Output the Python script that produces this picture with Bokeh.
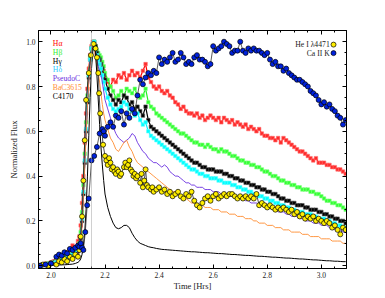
from bokeh.plotting import figure
from bokeh.models import (SingleIntervalTicker, LinearAxis, Span, PrintfTickFormatter,
                          CustomJSTickFormatter)
from bokeh.core.properties import value
from bokeh.embed import file_html
from bokeh.resources import INLINE

# ---------------- data ----------------
T = [1.96, 1.97, 1.98, 1.99, 2.00, 2.01, 2.02, 2.03, 2.04, 2.05, 2.06, 2.07, 2.08, 2.09, 2.10,
     2.105, 2.11, 2.115, 2.12, 2.125, 2.13, 2.135, 2.14, 2.145, 2.15, 2.155, 2.16, 2.165, 2.17,
     2.175, 2.18, 2.185, 2.19, 2.195, 2.20,
     2.21, 2.22, 2.23, 2.24, 2.25, 2.26, 2.27, 2.28, 2.29, 2.30,
     2.31, 2.32, 2.33, 2.34, 2.35, 2.36, 2.37, 2.38, 2.39, 2.40,
     2.41, 2.42, 2.43, 2.44, 2.45, 2.46, 2.47, 2.48, 2.49, 2.50,
     2.51, 2.52, 2.53, 2.54, 2.55, 2.56, 2.57, 2.58, 2.59, 2.60,
     2.61, 2.62, 2.63, 2.64, 2.65, 2.66, 2.67, 2.68, 2.69, 2.70,
     2.71, 2.72, 2.73, 2.74, 2.75, 2.76, 2.77, 2.78, 2.79, 2.80,
     2.81, 2.82, 2.83, 2.84, 2.85, 2.86, 2.87, 2.88, 2.89, 2.90,
     2.91, 2.92, 2.93, 2.94, 2.95, 2.96, 2.97, 2.98, 2.99, 3.00,
     3.01, 3.02, 3.03, 3.04, 3.05, 3.06, 3.07, 3.08, 3.09]

H_ALPHA = [0.0, 0.005, 0.01, 0.01, 0.015, 0.02, 0.03, 0.035, 0.04, 0.05, 0.06, 0.07, 0.09, 0.08, 0.11,
           0.13, 0.18, 0.28, 0.40, 0.55, 0.68, 0.79, 0.88, 0.94, 0.98, 1.0, 0.99, 0.97, 0.94, 0.92, 0.90, 0.91, 0.89, 0.87, 0.84,
           0.82, 0.80, 0.83, 0.82, 0.85, 0.84, 0.86, 0.83, 0.85, 0.87,
           0.85, 0.86, 0.84, 0.87, 0.90, 0.84, 0.82, 0.80, 0.79, 0.80,
           0.78, 0.77, 0.78, 0.76, 0.75, 0.73, 0.72, 0.70, 0.71, 0.69,
           0.68, 0.68, 0.67, 0.68, 0.66, 0.67, 0.65, 0.66, 0.67, 0.66,
           0.65, 0.66, 0.64, 0.66, 0.65, 0.64, 0.65, 0.63, 0.64, 0.63,
           0.62, 0.63, 0.61, 0.62, 0.61, 0.60, 0.61, 0.59, 0.58, 0.58,
           0.57, 0.57, 0.56, 0.57, 0.55, 0.57, 0.56, 0.55, 0.54, 0.53,
           0.52, 0.51, 0.51, 0.50, 0.49, 0.48, 0.47, 0.48, 0.46, 0.46,
           0.46, 0.45, 0.45, 0.44, 0.44, 0.43, 0.43, 0.42, 0.41]

H_BETA = [0.0, 0.005, 0.008, 0.01, 0.012, 0.015, 0.02, 0.025, 0.03, 0.04, 0.045, 0.05, 0.06, 0.07, 0.08,
          0.10, 0.15, 0.24, 0.36, 0.50, 0.64, 0.76, 0.86, 0.93, 0.97, 0.99, 1.0, 0.98, 0.96, 0.95, 0.94, 0.93, 0.91, 0.89, 0.86,
          0.83, 0.80, 0.78, 0.75, 0.76, 0.78, 0.76, 0.79, 0.78, 0.77,
          0.79, 0.76, 0.75, 0.76, 0.79, 0.73, 0.71, 0.70, 0.68, 0.67,
          0.66, 0.65, 0.64, 0.63, 0.62, 0.61, 0.60, 0.59, 0.59, 0.58,
          0.57, 0.56, 0.55, 0.55, 0.54, 0.54, 0.53, 0.54, 0.53, 0.52,
          0.52, 0.51, 0.52, 0.51, 0.51, 0.50, 0.49, 0.49, 0.48, 0.47,
          0.47, 0.46, 0.46, 0.45, 0.45, 0.44, 0.44, 0.43, 0.42, 0.42,
          0.41, 0.40, 0.40, 0.39, 0.38, 0.38, 0.37, 0.37, 0.36, 0.36,
          0.35, 0.35, 0.34, 0.34, 0.34, 0.33, 0.33, 0.32, 0.32, 0.31,
          0.30, 0.29, 0.29, 0.28, 0.28, 0.27, 0.27, 0.26, 0.25]

H_GAMMA = [0.0, 0.004, 0.006, 0.008, 0.01, 0.012, 0.015, 0.02, 0.025, 0.03, 0.035, 0.04, 0.05, 0.055, 0.065,
           0.08, 0.12, 0.20, 0.32, 0.46, 0.60, 0.73, 0.84, 0.92, 0.97, 0.99, 1.0, 0.98, 0.95, 0.93, 0.92, 0.90, 0.88, 0.85, 0.83,
           0.79, 0.76, 0.74, 0.72, 0.74, 0.73, 0.76, 0.75, 0.72, 0.73,
           0.70, 0.71, 0.69, 0.67, 0.71, 0.65, 0.62, 0.61, 0.60, 0.59,
           0.58, 0.57, 0.56, 0.55, 0.54, 0.53, 0.52, 0.51, 0.50, 0.49,
           0.48, 0.47, 0.46, 0.46, 0.45, 0.44, 0.44, 0.43, 0.43, 0.43,
           0.42, 0.42, 0.42, 0.41, 0.41, 0.40, 0.40, 0.39, 0.39, 0.38,
           0.38, 0.37, 0.37, 0.36, 0.36, 0.35, 0.35, 0.34, 0.34, 0.33,
           0.33, 0.32, 0.32, 0.31, 0.30, 0.30, 0.29, 0.29, 0.28, 0.28,
           0.27, 0.27, 0.27, 0.26, 0.26, 0.25, 0.25, 0.25, 0.24, 0.24,
           0.23, 0.23, 0.22, 0.22, 0.21, 0.21, 0.20, 0.20, 0.19]

H_DELTA = [0.0, 0.004, 0.006, 0.008, 0.01, 0.012, 0.015, 0.02, 0.025, 0.03, 0.035, 0.045, 0.05, 0.06, 0.07,
           0.09, 0.13, 0.21, 0.33, 0.47, 0.61, 0.74, 0.85, 0.92, 0.97, 0.99, 1.0, 0.97, 0.94, 0.92, 0.90, 0.88, 0.85, 0.82, 0.79,
           0.75, 0.72, 0.70, 0.69, 0.70, 0.71, 0.73, 0.72, 0.70, 0.69,
           0.67, 0.68, 0.65, 0.63, 0.64, 0.60, 0.58, 0.57, 0.56, 0.55,
           0.54, 0.53, 0.52, 0.51, 0.50, 0.49, 0.48, 0.47, 0.46, 0.45,
           0.44, 0.43, 0.43, 0.42, 0.41, 0.41, 0.40, 0.40, 0.39, 0.39,
           0.39, 0.38, 0.38, 0.37, 0.37, 0.37, 0.36, 0.36, 0.35, 0.35,
           0.34, 0.34, 0.33, 0.33, 0.32, 0.32, 0.31, 0.31, 0.30, 0.30,
           0.29, 0.29, 0.28, 0.28, 0.27, 0.27, 0.26, 0.26, 0.25, 0.25,
           0.24, 0.24, 0.24, 0.23, 0.23, 0.23, 0.22, 0.22, 0.21, 0.21,
           0.21, 0.20, 0.20, 0.19, 0.19, 0.18, 0.18, 0.17, 0.17]

PSEUDO_C = [0.0, 0.003, 0.005, 0.006, 0.008, 0.01, 0.012, 0.015, 0.02, 0.025, 0.03, 0.035, 0.04, 0.05, 0.06,
            0.08, 0.12, 0.20, 0.32, 0.46, 0.60, 0.72, 0.83, 0.91, 0.96, 0.99, 0.98, 0.95, 0.92, 0.89, 0.87, 0.85, 0.82, 0.78, 0.74,
            0.70, 0.66, 0.62, 0.59, 0.57, 0.56, 0.55, 0.56, 0.57, 0.59,
            0.58, 0.55, 0.53, 0.51, 0.50, 0.48, 0.47, 0.46, 0.46, 0.45,
            0.44, 0.45, 0.44, 0.42, 0.41, 0.40, 0.40, 0.39, 0.38, 0.37,
            0.37, 0.36, 0.36, 0.35, 0.35, 0.35, 0.34, 0.34, 0.34, 0.33,
            0.33, 0.33, 0.32, 0.32, 0.32, 0.31, 0.31, 0.31, 0.30, 0.30,
            0.30, 0.29, 0.29, 0.28, 0.28, 0.28, 0.27, 0.27, 0.26, 0.26,
            0.26, 0.25, 0.25, 0.24, 0.24, 0.24, 0.23, 0.23, 0.22, 0.22,
            0.22, 0.21, 0.21, 0.20, 0.20, 0.20, 0.19, 0.19, 0.19, 0.18,
            0.18, 0.18, 0.17, 0.17, 0.16, 0.16, 0.16, 0.15, 0.15]

BAC3615 = [0.0, 0.002, 0.004, 0.005, 0.006, 0.008, 0.01, 0.012, 0.015, 0.018, 0.02, 0.025, 0.03, 0.035, 0.04,
           0.06, 0.10, 0.18, 0.30, 0.44, 0.58, 0.71, 0.82, 0.90, 0.96, 0.99, 0.97, 0.93, 0.89, 0.86, 0.82, 0.77, 0.72, 0.68, 0.65,
           0.61, 0.57, 0.55, 0.52, 0.51, 0.53, 0.55, 0.56, 0.53, 0.51,
           0.48, 0.46, 0.45, 0.44, 0.43, 0.42, 0.41, 0.40, 0.39, 0.38,
           0.37, 0.36, 0.35, 0.34, 0.33, 0.33, 0.32, 0.31, 0.31, 0.30,
           0.29, 0.28, 0.28, 0.28, 0.27, 0.27, 0.26, 0.26, 0.26, 0.25,
           0.25, 0.25, 0.24, 0.24, 0.24, 0.23, 0.23, 0.23, 0.22, 0.22,
           0.22, 0.21, 0.21, 0.21, 0.20, 0.20, 0.19, 0.19, 0.19, 0.18,
           0.18, 0.18, 0.17, 0.17, 0.17, 0.16, 0.16, 0.16, 0.15, 0.15,
           0.15, 0.15, 0.14, 0.14, 0.14, 0.13, 0.13, 0.13, 0.13, 0.12,
           0.12, 0.12, 0.12, 0.11, 0.11, 0.11, 0.11, 0.10, 0.10]

C4170 = [0.0, 0.0, 0.001, 0.001, 0.002, 0.002, 0.003, 0.003, 0.004, 0.004, 0.005, 0.006, 0.007, 0.01, 0.015,
         0.02, 0.03, 0.05, 0.09, 0.15, 0.25, 0.40, 0.58, 0.75, 0.88, 0.96, 0.99, 0.95, 0.85, 0.74, 0.63, 0.53, 0.45, 0.38, 0.32,
         0.26, 0.22, 0.19, 0.17, 0.165, 0.17, 0.18, 0.18, 0.17, 0.145,
         0.125, 0.11, 0.10, 0.095, 0.09, 0.085, 0.082, 0.08, 0.077, 0.075,
         0.073, 0.072, 0.071, 0.07, 0.069, 0.068, 0.067, 0.066, 0.065, 0.064,
         0.063, 0.062, 0.062, 0.061, 0.060, 0.059, 0.058, 0.058, 0.057, 0.056,
         0.055, 0.054, 0.054, 0.053, 0.052, 0.051, 0.050, 0.050, 0.049, 0.048,
         0.047, 0.046, 0.046, 0.045, 0.044, 0.043, 0.042, 0.042, 0.041, 0.040,
         0.039, 0.038, 0.038, 0.037, 0.036, 0.035, 0.034, 0.034, 0.033, 0.032,
         0.031, 0.030, 0.030, 0.029, 0.028, 0.027, 0.026, 0.026, 0.025, 0.024,
         0.023, 0.022, 0.022, 0.021, 0.020, 0.020, 0.019, 0.018, 0.018]

HE_T = [1.96, 1.97, 1.99, 2.00, 2.02, 2.03, 2.04, 2.05, 2.06, 2.07, 2.08, 2.09, 2.10, 2.105, 2.11,
        2.115, 2.12, 2.125, 2.13, 2.14, 2.148, 2.158, 2.165, 2.17, 2.175, 2.178, 2.182, 2.188, 2.193, 2.20,
        2.205, 2.21, 2.215, 2.22, 2.225, 2.23, 2.235, 2.24, 2.245, 2.25, 2.255, 2.26, 2.27, 2.275, 2.28,
        2.285, 2.29, 2.295, 2.30, 2.305, 2.31, 2.315, 2.32, 2.33, 2.335, 2.34, 2.345, 2.35, 2.355, 2.36,
        2.37, 2.375, 2.38, 2.39, 2.40, 2.41, 2.42, 2.43, 2.44, 2.45, 2.46, 2.47, 2.48, 2.49, 2.50,
        2.51, 2.52, 2.53, 2.54, 2.55, 2.56, 2.57, 2.58, 2.59, 2.60, 2.61, 2.62, 2.63, 2.64, 2.65,
        2.66, 2.67, 2.68, 2.69, 2.70, 2.71, 2.72, 2.73, 2.74, 2.75, 2.76, 2.77, 2.78, 2.79, 2.80,
        2.81, 2.82, 2.83, 2.84, 2.85, 2.86, 2.87, 2.88, 2.89, 2.90, 2.91, 2.92, 2.93, 2.94, 2.95,
        2.96, 2.97, 2.98, 2.99, 3.00, 3.01, 3.02, 3.03, 3.04, 3.05, 3.06, 3.07, 3.08, 3.09]
HE_I = [0.0, 0.005, 0.0, 0.01, 0.005, 0.02, 0.015, 0.03, 0.02, 0.04, 0.03, 0.05, 0.04, 0.07, 0.13,
        0.22, 0.38, 0.56, 0.74, 0.86, 0.94, 0.99, 0.97, 0.93, 0.86, 0.77, 0.68, 0.60, 0.54, 0.49,
        0.47, 0.45, 0.48, 0.46, 0.43, 0.44, 0.42, 0.41, 0.43, 0.42, 0.40, 0.41, 0.44, 0.46, 0.44,
        0.45, 0.47, 0.43, 0.42, 0.40, 0.41, 0.39, 0.40, 0.37, 0.41, 0.35, 0.38, 0.43, 0.36, 0.35,
        0.34, 0.35, 0.33, 0.34, 0.35, 0.33, 0.34, 0.32, 0.33, 0.31, 0.32, 0.33, 0.31, 0.30, 0.32,
        0.31, 0.33, 0.29, 0.27, 0.26, 0.28, 0.30, 0.31, 0.29, 0.31, 0.32, 0.30, 0.31, 0.32, 0.31,
        0.32, 0.32, 0.31, 0.30, 0.31, 0.30, 0.31, 0.30, 0.31, 0.30, 0.32, 0.27, 0.28, 0.27, 0.26,
        0.27, 0.26, 0.25, 0.26, 0.25, 0.26, 0.25, 0.24, 0.25, 0.23, 0.24, 0.22, 0.23, 0.21, 0.22,
        0.21, 0.22, 0.20, 0.21, 0.20, 0.19, 0.20, 0.19, 0.17, 0.18, 0.16, 0.14, 0.17, 0.16]

CA_T = [1.96, 1.98, 2.00, 2.02, 2.03, 2.04, 2.05, 2.06, 2.07, 2.08, 2.09, 2.10, 2.105, 2.11, 2.115,
        2.12, 2.127, 2.134, 2.14, 2.15, 2.16, 2.17, 2.18, 2.19, 2.195, 2.20, 2.21, 2.22, 2.23, 2.24,
        2.25, 2.26, 2.27, 2.28, 2.29, 2.30, 2.31, 2.32, 2.33, 2.34, 2.35, 2.36, 2.37, 2.38, 2.39,
        2.40, 2.41, 2.42, 2.43, 2.44, 2.45, 2.46, 2.47, 2.48, 2.49, 2.50, 2.51, 2.52, 2.53, 2.54,
        2.55, 2.56, 2.57, 2.58, 2.59, 2.60, 2.61, 2.62, 2.63, 2.64, 2.65, 2.66, 2.67, 2.68, 2.69,
        2.70, 2.71, 2.72, 2.73, 2.74, 2.75, 2.76, 2.77, 2.78, 2.79, 2.80, 2.81, 2.82, 2.83, 2.84,
        2.85, 2.86, 2.87, 2.88, 2.89, 2.90, 2.91, 2.92, 2.93, 2.94, 2.95, 2.96, 2.97, 2.98, 2.99,
        3.00, 3.01, 3.02, 3.03, 3.04, 3.05, 3.06, 3.07, 3.08, 3.09]
CA_II_K = [0.0, 0.005, 0.01, 0.04, 0.05, 0.045, 0.06, 0.055, 0.075, 0.07, 0.08, 0.09, 0.085, 0.10, 0.08,
           0.07, 0.15, 0.27, 0.30, 0.47, 0.49, 0.53, 0.59, 0.61, 0.60, 0.58, 0.62, 0.64, 0.62, 0.67,
           0.66, 0.69, 0.63, 0.68, 0.66, 0.70, 0.68, 0.76, 0.83, 0.81, 0.84, 0.86, 0.85, 0.87, 0.86,
           0.93, 0.90, 0.92, 0.91, 0.93, 0.95, 0.91, 0.92, 0.95, 0.93, 0.90, 0.91, 0.90, 0.93, 0.94,
           0.92, 0.92, 0.91, 0.89, 0.90, 0.98, 0.96, 0.97, 0.98, 1.0, 0.99, 0.98, 0.95, 0.96, 0.96,
           1.0, 0.96, 0.95, 0.97, 0.96, 0.97, 0.96, 0.96, 0.95, 0.94, 0.95, 0.92, 0.90, 0.91, 0.89,
           0.89, 0.87, 0.88, 0.86, 0.85, 0.84, 0.83, 0.83, 0.82, 0.81, 0.80, 0.78, 0.77, 0.76, 0.74,
           0.72, 0.73, 0.71, 0.72, 0.70, 0.69, 0.67, 0.66, 0.63, 0.65]

PEAK_TIME = 2.15

LEFT_LABELS = ["H\u03b1", "H\u03b2", "H\u03b3", "H\u03b4", "PseudoC", "BaC3615", "C4170"]
LEFT_COLORS = ["#ff0000", "#33ee33", "#000000", "#33ccff", "#6a30e0", "#ff8c30", "#000000"]
RIGHT_LABELS = ["He I \u03bb4471", "Ca II K"]
RIGHT_COLORS = ["#ffee00", "#0022dd"]

FONT = "Liberation Serif"

# ---------------- figure ----------------
p = figure(width=377, height=294, x_range=(1.954, 3.093), y_range=(-0.0125, 1.05),
           output_backend="svg", toolbar_location=None,
           min_border_left=38, min_border_right=31, min_border_top=30, min_border_bottom=26)
p.xgrid.visible = False
p.ygrid.visible = False
p.outline_line_color = "black"
p.background_fill_color = "white"
p.border_fill_color = "white"


def style_axis(ax, show_labels=True):
    ax.ticker = SingleIntervalTicker(interval=0.2, num_minor_ticks=4)
    ax.axis_line_color = "black"
    ax.major_tick_line_color = "black"
    ax.minor_tick_line_color = "black"
    ax.major_tick_in = 4
    ax.major_tick_out = 0
    ax.minor_tick_in = 2
    ax.minor_tick_out = 0
    ax.major_label_text_font = FONT
    ax.major_label_text_font_size = "7.5px"
    ax.major_label_text_color = "#222222"
    ax.axis_label_text_font = FONT
    ax.axis_label_text_font_size = "8.5px"
    ax.axis_label_text_font_style = "normal"
    ax.axis_label_text_color = "#222222"
    if show_labels:
        ax.formatter = PrintfTickFormatter(format="%.1f")
    else:
        ax.formatter = CustomJSTickFormatter(code="return ''")


xa = p.xaxis[0]
ya = p.yaxis[0]
style_axis(xa)
style_axis(ya)
xa.axis_label = "Time [Hrs]"
ya.axis_label = "Normalized Flux"
xa.major_label_standoff = 3
xa.axis_label_standoff = 0
ya.major_label_standoff = 3
ya.axis_label_standoff = 4

top = LinearAxis()
style_axis(top, False)
p.add_layout(top, "above")
right = LinearAxis()
style_axis(right, False)
p.add_layout(right, "right")

p.add_layout(Span(location=PEAK_TIME, dimension="height", line_color="#a0a0a0",
                  line_dash="1 1", line_width=1))

# dense emission-line curves with small square markers
for ys, lc, mc, ec in [(H_ALPHA, "#ff0000", "#ff2a2a", "#ff7070"),
                       (H_BETA, "#22ee22", "#33ff33", "#88ff88"),
                       (H_GAMMA, "#000000", "#000000", "#555555"),
                       (H_DELTA, "#00eeff", "#00ffff", "#66ffff")]:
    p.line(T, ys, line_color=lc, line_width=1.2)
    p.scatter(T, ys, marker="square", size=3.5, fill_color=mc, line_color=ec, line_width=0.6)

# thin continuum lines
p.line(T, PSEUDO_C, line_color="#6a30e0", line_width=0.9)
p.line(T, BAC3615, line_color="#ff8c30", line_width=0.9)
p.line(T, C4170, line_color="#000000", line_width=1.0)

# He I and Ca II K points
p.line(HE_T, HE_I, line_color="#222222", line_width=0.8)
p.scatter(HE_T, HE_I, marker="circle", size=5, fill_color="#ffee00", line_color="black", line_width=0.7)
p.line(CA_T, CA_II_K, line_color="#333333", line_width=0.8)
p.scatter(CA_T, CA_II_K, marker="circle", size=5, fill_color="#0022dd", line_color="black", line_width=0.7)

# left legend (coloured text)
lx = [2.007] * len(LEFT_LABELS)
ly = [0.994 - 0.0401 * i for i in range(len(LEFT_LABELS))]
p.text(x=lx, y=ly, text=LEFT_LABELS, text_color=LEFT_COLORS, text_font=value(FONT),
       text_font_size=value("7.7px"), text_align="left", text_baseline="middle")

# right legend (text + marker)
rx = [3.031] * len(RIGHT_LABELS)
ry = [0.987, 0.949]
p.text(x=rx, y=ry, text=RIGHT_LABELS, text_color="#222222", text_font=value(FONT),
       text_font_size=value("7.7px"), text_align="right", text_baseline="middle")
p.scatter(x=[3.045] * 2, y=ry, marker="circle", size=5, fill_color=RIGHT_COLORS,
          line_color="black", line_width=0.7)

open("out.html", "w").write(file_html(p, INLINE))
